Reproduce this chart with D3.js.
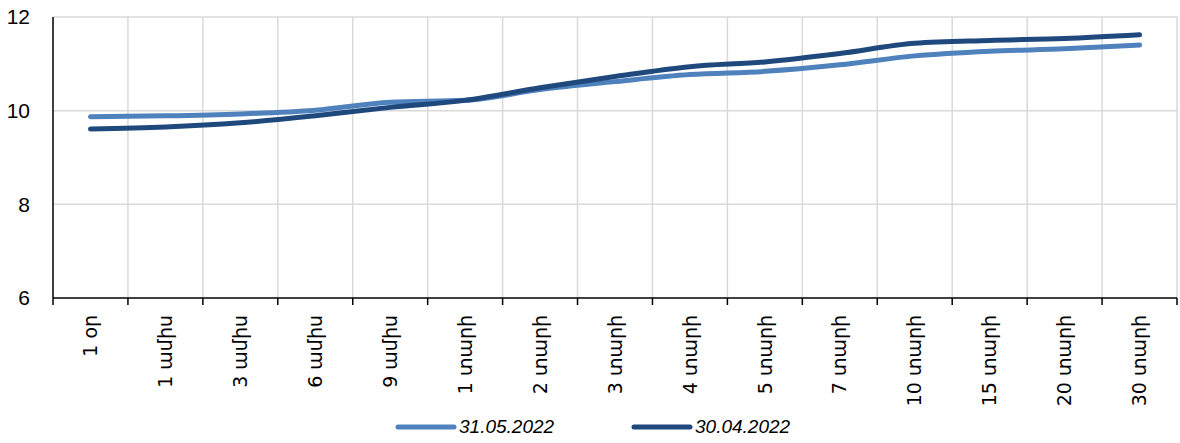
<!DOCTYPE html>
<html>
<head>
<meta charset="utf-8">
<script src="https://cdn.jsdelivr.net/npm/d3@7"></script>
<style>
  body { margin: 0; background: #fff; }
  svg text { font-family: "DejaVu Sans", sans-serif; fill: #000; }
</style>
</head>
<body>
<svg id="chart" width="1180" height="443"></svg>
<script>
const categories = ['1 օր', '1 ամիս', '3 ամիս', '6 ամիս', '9 ամիս', '1 տարի', '2 տարի', '3 տարի',
    '4 տարի', '5 տարի', '7 տարի', '10 տարի', '15 տարի', '20 տարի', '30 տարի'];
const may2022 = [9.87, 9.89, 9.93, 10.01, 10.18, 10.22, 10.45, 10.62, 10.77, 10.84, 10.98, 11.17, 11.27, 11.32, 11.40];
const apr2022 = [9.61, 9.65, 9.74, 9.89, 10.07, 10.22, 10.49, 10.73, 10.94, 11.04, 11.22, 11.44, 11.50, 11.54, 11.62];
const yTicks = [6, 8, 10, 12];
const seriesNames = ['31.05.2022', '30.04.2022'];
const seriesColors = ['#4f81bd', '#1f497d'];

const svg = d3.select('#chart');
const margin = {left: 53, right: 3, top: 17, bottom: 145};
const W = 1180, H = 443;

const x = d3.scaleBand().domain(categories).range([margin.left, W - margin.right]);
const y = d3.scaleLinear().domain([6, 12]).range([H - margin.bottom, margin.top]);

// grid
const grid = svg.append('g').attr('stroke', '#d9d9d9').attr('stroke-width', 1.5);
yTicks.filter(t => t > 6).forEach(t => {
    grid.append('line').attr('x1', margin.left).attr('x2', W - margin.right)
        .attr('y1', y(t)).attr('y2', y(t));
});
categories.forEach(c => {
    const xx = x(c) + x.bandwidth();
    grid.append('line').attr('x1', xx).attr('x2', xx)
        .attr('y1', y(12)).attr('y2', y(6));
});

// y axis
svg.append('line').attr('x1', margin.left).attr('x2', margin.left)
    .attr('y1', y(12)).attr('y2', y(6)).attr('stroke', '#000').attr('stroke-width', 1.5);
yTicks.forEach(t => {
    svg.append('text').attr('x', 30).attr('y', y(t)).attr('dy', '0.35em')
        .attr('text-anchor', 'end')
        .style('font-family', '"Liberation Sans Narrow", "Liberation Sans", sans-serif')
        .style('font-size', '21px').text(t);
});

// x axis
svg.append('line').attr('x1', margin.left).attr('x2', W - margin.right)
    .attr('y1', y(6)).attr('y2', y(6)).attr('stroke', '#000').attr('stroke-width', 1.5);
[margin.left].concat(categories.map(c => x(c) + x.bandwidth())).forEach(xx => {
    svg.append('line').attr('x1', xx).attr('x2', xx)
        .attr('y1', y(6)).attr('y2', y(6) + 7).attr('stroke', '#000').attr('stroke-width', 1.5);
});
categories.forEach(c => {
    svg.append('text')
        .attr('transform', `translate(${x(c) + x.bandwidth() / 2},${y(6) + 17}) rotate(-90)`)
        .attr('dy', '0.35em').attr('text-anchor', 'end')
        .style('font-size', '19px').text(c);
});

// lines
const line = d3.line()
    .x((d, i) => x(categories[i]) + x.bandwidth() / 2)
    .y(d => y(d))
    .curve(d3.curveMonotoneX);
[may2022, apr2022].forEach((s, i) => {
    svg.append('path').datum(s).attr('d', line)
        .attr('fill', 'none').attr('stroke', seriesColors[i])
        .attr('stroke-width', 5).attr('stroke-linecap', 'round');
});

// legend
const legendX = [398, 634];
seriesNames.forEach((n, i) => {
    svg.append('line').attr('x1', legendX[i]).attr('x2', legendX[i] + 56)
        .attr('y1', 427).attr('y2', 427).attr('stroke', seriesColors[i])
        .attr('stroke-width', 5).attr('stroke-linecap', 'round');
    svg.append('text').attr('x', legendX[i] + 61).attr('y', 433)
        .style('font-family', '"Liberation Sans Narrow", "Liberation Sans", sans-serif')
        .style('font-size', '19px').style('font-style', 'italic').text(n);
});
</script>
</body>
</html>
